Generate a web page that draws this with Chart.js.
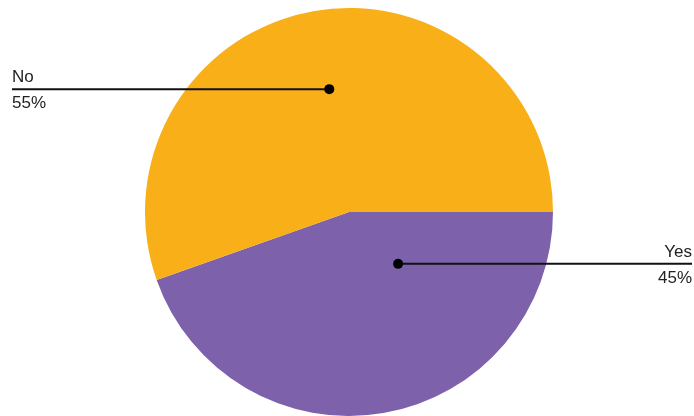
<!DOCTYPE html>
<html>
<head>
<meta charset="utf-8">
<script src="https://cdn.jsdelivr.net/npm/chart.js@4/dist/chart.umd.min.js"></script>
<style>
  html, body { margin: 0; padding: 0; background: #fff; }
  #wrap { width: 694px; height: 416px; }
</style>
</head>
<body>
<div id="wrap"><canvas id="pie"></canvas></div>
<script>
// Data
const labels = ['Yes', 'No'];
const values = [44.6, 55.4];
const colors = ['#7D62AB', '#F9AF17'];

// where the callout dot sits inside each slice (fraction of slice angle, fraction of radius)
const anchorAngle = [0.29, 0.503];
const anchorRadius = [0.35, 0.61];

// Draw callout dots, leader lines and labels
const calloutPlugin = {
    id: 'callouts',
    afterDatasetsDraw(chart) {
        const ctx = chart.ctx;
        const meta = chart.getDatasetMeta(0);
        const total = values.reduce((a, b) => a + b, 0);
        meta.data.forEach((arc, i) => {
            const p = arc.getProps(['x', 'y', 'startAngle', 'endAngle', 'outerRadius'], true);
            const a = p.startAngle + (p.endAngle - p.startAngle) * anchorAngle[i];
            const r = p.outerRadius * anchorRadius[i];
            const dx = p.x + Math.cos(a) * r;
            const dy = p.y + Math.sin(a) * r;
            const left = i === 1;
            const endX = left ? 12 : chart.width - 2;
            ctx.save();
            ctx.strokeStyle = '#111';
            ctx.lineWidth = 2;
            ctx.beginPath();
            ctx.moveTo(dx, dy);
            ctx.lineTo(endX, dy);
            ctx.stroke();
            ctx.fillStyle = '#000';
            ctx.beginPath();
            ctx.arc(dx, dy, 5, 0, Math.PI * 2);
            ctx.fill();
            ctx.font = '17px "Liberation Sans", Arial, sans-serif';
            ctx.fillStyle = '#222';
            ctx.textAlign = left ? 'left' : 'right';
            ctx.textBaseline = 'alphabetic';
            ctx.fillText(labels[i], endX, dy - 7);
            const pct = Math.round(values[i] / total * 100) + '%';
            ctx.fillText(pct, endX, dy + 19);
            ctx.restore();
        });
    }
};

const config = {
    type: 'pie',
    data: {
        labels: labels,
        datasets: [{
            data: values,
            backgroundColor: colors,
            borderWidth: 0
        }]
    },
    options: {
        responsive: true,
        maintainAspectRatio: false,
        animation: false,
        rotation: 90,
        layout: { padding: { top: 8, bottom: 0, left: 4, right: 0 } },
        plugins: {
            legend: { display: false },
            tooltip: { enabled: false }
        }
    },
    plugins: [calloutPlugin]
};

const pieChart = new Chart(document.getElementById('pie'), config);
</script>
</body>
</html>
